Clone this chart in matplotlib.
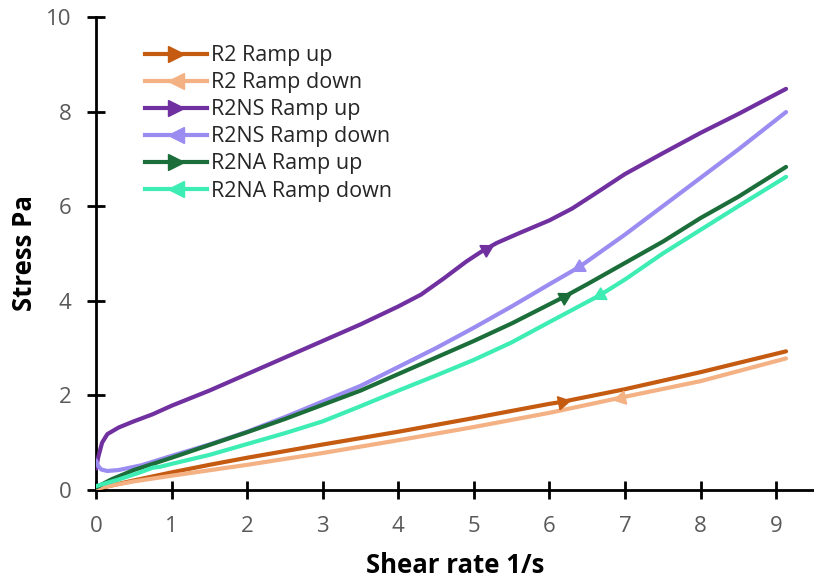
import numpy as np
import matplotlib
matplotlib.use("Agg")
import matplotlib.pyplot as plt
from matplotlib.lines import Line2D

plt.rcParams['font.family'] = ['Open Sans', 'DejaVu Sans']

# Data (shear rate 1/s, stress Pa)
r2_up_x = [0, 0.5, 1, 1.5, 2, 3, 4, 5, 6, 6.16, 7, 8, 9.13]
r2_up_y = [0.02, 0.2, 0.37, 0.53, 0.68, 0.96, 1.23, 1.52, 1.82, 1.86, 2.13, 2.49, 2.93]

r2_down_x = [9.13, 8, 7, 6, 5, 4, 3, 2, 1, 0.5, 0]
r2_down_y = [2.78, 2.3, 1.97, 1.63, 1.33, 1.05, 0.78, 0.53, 0.3, 0.18, 0.03]

r2ns_up_x = [0.0, 0.03, 0.08, 0.15, 0.3, 0.5, 0.75, 1, 1.5, 2, 2.5, 3, 3.5, 4, 4.3, 4.6,
             4.9, 5.1, 5.3, 5.6, 6, 6.3, 6.6, 7, 7.5, 8, 8.5, 9.13]
r2ns_up_y = [0.45, 0.7, 1.0, 1.18, 1.32, 1.45, 1.6, 1.78, 2.1, 2.45, 2.8, 3.15, 3.5, 3.88, 4.13, 4.47,
             4.83, 5.04, 5.22, 5.43, 5.7, 5.95, 6.26, 6.68, 7.12, 7.55, 7.95, 8.48]

r2ns_down_x = [9.13, 8.5, 8, 7.5, 7, 6.39, 6, 5.5, 5, 4.5, 4, 3.5, 3, 2.5, 2, 1.5, 1,
               0.6, 0.3, 0.15, 0.07, 0.03, 0.0]
r2ns_down_y = [7.99, 7.2, 6.6, 6.0, 5.4, 4.71, 4.35, 3.88, 3.43, 3.0, 2.6, 2.2, 1.87, 1.54, 1.23, 0.96, 0.72,
               0.52, 0.42, 0.4, 0.43, 0.5, 0.62]

r2na_up_x = [0, 0.2, 0.5, 1, 1.5, 2, 2.5, 3, 3.5, 4, 4.5, 5, 5.5, 6.19, 6.5, 7, 7.5, 8, 8.5, 9.13]
r2na_up_y = [0.05, 0.22, 0.42, 0.68, 0.95, 1.22, 1.5, 1.8, 2.1, 2.45, 2.8, 3.15, 3.52, 4.08, 4.35, 4.8,
             5.25, 5.75, 6.2, 6.83]

r2na_down_x = [9.13, 8.5, 8, 7.5, 7, 6.67, 6, 5.5, 5, 4.5, 4, 3.5, 3, 2.5, 2, 1.5, 1,
               0.85, 0.75, 0.6, 0.3, 0]
r2na_down_y = [6.62, 6.0, 5.5, 5.0, 4.45, 4.12, 3.55, 3.12, 2.75, 2.42, 2.1, 1.77, 1.45, 1.2, 0.97, 0.74,
               0.55, 0.49, 0.47, 0.38, 0.22, 0.08]

labels = ["R2 Ramp up", "R2 Ramp down", "R2NS Ramp up", "R2NS Ramp down",
          "R2NA Ramp up", "R2NA Ramp down"]
colors = ["#C55A11", "#F4B183", "#7030A0", "#9A8CF0", "#1B6E3A", "#3DEDB3"]
arrow_x = [6.16, 6.94, 5.16, 6.39, 6.19, 6.67]

series = [(r2_up_x, r2_up_y), (r2_down_x, r2_down_y),
          (r2ns_up_x, r2ns_up_y), (r2ns_down_x, r2ns_down_y),
          (r2na_up_x, r2na_up_y), (r2na_down_x, r2na_down_y)]

fig = plt.figure(figsize=(8.14, 5.86), dpi=100)
ax = fig.add_axes([0.118, 0.164, 0.882, 0.807])
ax.set_xlim(0, 9.5)
ax.set_ylim(0, 10)

handles = []
for (xs, ys), lab, col, ax_pos in zip(series, labels, colors, arrow_x):
    ax.plot(xs, ys, color=col, lw=3, solid_capstyle='round', zorder=3)
    xs_a = np.array(xs)
    ys_a = np.array(ys)
    order = np.argsort(xs_a)
    ya = np.interp(ax_pos, xs_a[order], ys_a[order])
    going_up = xs_a[-1] > xs_a[0]
    # direction of travel in display coords, so the arrow follows the line
    d = 0.15 if going_up else -0.15
    yb = np.interp(ax_pos + d, xs_a[order], ys_a[order])
    p0 = ax.transData.transform((ax_pos, ya))
    p1 = ax.transData.transform((ax_pos + d, yb))
    ang = np.degrees(np.arctan2(p1[1] - p0[1], p1[0] - p0[0]))
    ax.plot([ax_pos], [ya], marker=(3, 0, ang - 90), color=col, ms=11, zorder=4)
    handles.append(Line2D([], [], color=col, lw=3,
                          marker='>' if going_up else '<', ms=11))

leg = ax.legend(handles, labels, loc='upper left', bbox_to_anchor=(0.068, 0.94),
                frameon=False, fontsize=15.5, handlelength=2.9, handletextpad=0.15,
                labelspacing=0.28, borderaxespad=0, borderpad=0)
for t in leg.get_texts():
    t.set_color('#262626')

for s in ['top', 'right']:
    ax.spines[s].set_visible(False)
for s in ['left', 'bottom']:
    ax.spines[s].set_linewidth(2)
ax.set_xticks(range(0, 10))
ax.set_yticks(range(0, 11, 2))
ax.tick_params(direction='inout', length=13, width=2, labelsize=16,
               labelcolor='#595959')
ax.tick_params(axis='x', pad=12)
ax.tick_params(axis='y', pad=11)
ax.set_xlabel("Shear rate 1/s", fontsize=18.5, fontweight='bold', labelpad=11)
ax.set_ylabel("Stress Pa", fontsize=18.5, fontweight='bold', labelpad=6)

fig.savefig("out.png", dpi=100)
